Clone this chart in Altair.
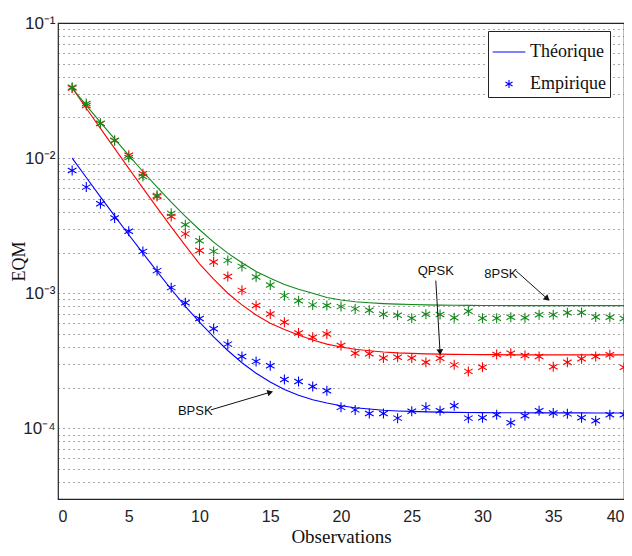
import altair as alt
import pandas as pd

# ---------------- data ----------------
obs = list(range(1, 41))
series_names = ["BPSK", "QPSK", "8PSK"]
series_colors = ["#0000ff", "#ff0000", "#12891a"]

theo_bpsk = [1.0e-2, 7.19e-3, 5.17e-3, 3.74e-3, 2.71e-3, 1.98e-3, 1.45e-3, 1.07e-3, 8.0e-4, 6.1e-4,
             4.75e-4, 3.77e-4, 3.06e-4, 2.56e-4, 2.2e-4, 1.94e-4, 1.76e-4, 1.63e-4, 1.54e-4, 1.47e-4,
             1.42e-4, 1.39e-4, 1.36e-4, 1.345e-4, 1.335e-4, 1.325e-4, 1.318e-4, 1.313e-4, 1.31e-4, 1.307e-4,
             1.305e-4, 1.304e-4, 1.303e-4, 1.302e-4, 1.302e-4, 1.301e-4, 1.301e-4, 1.3e-4, 1.3e-4, 1.3e-4]
theo_qpsk = [3.3e-2, 2.34e-2, 1.66e-2, 1.18e-2, 8.4e-3, 6.0e-3, 4.3e-3, 3.1e-3, 2.25e-3, 1.65e-3,
             1.27e-3, 1.0e-3, 8.2e-4, 6.9e-4, 6.0e-4, 5.4e-4, 4.9e-4, 4.5e-4, 4.2e-4, 4.0e-4,
             3.85e-4, 3.75e-4, 3.67e-4, 3.62e-4, 3.59e-4, 3.56e-4, 3.54e-4, 3.53e-4, 3.52e-4, 3.51e-4,
             3.51e-4, 3.5e-4, 3.5e-4, 3.5e-4, 3.5e-4, 3.5e-4, 3.5e-4, 3.5e-4, 3.5e-4, 3.5e-4]
theo_8psk = [3.3e-2, 2.46e-2, 1.84e-2, 1.386e-2, 1.047e-2, 7.96e-3, 6.1e-3, 4.72e-3, 3.70e-3, 2.95e-3,
             2.39e-3, 1.98e-3, 1.68e-3, 1.45e-3, 1.29e-3, 1.16e-3, 1.07e-3, 1.0e-3, 9.3e-4, 8.9e-4,
             8.65e-4, 8.5e-4, 8.38e-4, 8.3e-4, 8.25e-4, 8.2e-4, 8.17e-4, 8.15e-4, 8.13e-4, 8.12e-4,
             8.11e-4, 8.1e-4, 8.1e-4, 8.1e-4, 8.1e-4, 8.1e-4, 8.1e-4, 8.1e-4, 8.1e-4, 8.1e-4]

emp_bpsk = [8.1e-3, 6.1e-3, 4.6e-3, 3.6e-3, 2.88e-3, 2.04e-3, 1.47e-3, 1.1e-3, 8.5e-4, 6.5e-4,
            5.45e-4, 4.2e-4, 3.4e-4, 3.13e-4, 2.91e-4, 2.3e-4, 2.22e-4, 2.04e-4, 1.9e-4, 1.43e-4,
            1.37e-4, 1.29e-4, 1.29e-4, 1.19e-4, 1.34e-4, 1.43e-4, 1.35e-4, 1.47e-4, 1.19e-4, 1.2e-4,
            1.26e-4, 1.1e-4, 1.24e-4, 1.35e-4, 1.3e-4, 1.28e-4, 1.2e-4, 1.14e-4, 1.26e-4, 1.26e-4]
emp_qpsk = [3.3e-2, 2.45e-2, 1.8e-2, 1.35e-2, 1.05e-2, 7.65e-3, 5.2e-3, 3.7e-3, 2.75e-3, 2.07e-3,
            1.7e-3, 1.33e-3, 1.05e-3, 8.1e-4, 7.03e-4, 6.1e-4, 5.07e-4, 4.72e-4, 5.0e-4, 4.1e-4,
            3.6e-4, 3.56e-4, 3.32e-4, 3.36e-4, 3.32e-4, 3.08e-4, 3.3e-4, 2.95e-4, 2.64e-4, 2.83e-4,
            3.52e-4, 3.6e-4, 3.46e-4, 3.4e-4, 2.86e-4, 3.08e-4, 3.27e-4, 3.4e-4, 3.5e-4, 2.83e-4]
emp_8psk = [3.34e-2, 2.54e-2, 1.81e-2, 1.35e-2, 1.01e-2, 7.3e-3, 5.3e-3, 3.9e-3, 3.21e-3, 2.45e-3,
            2.04e-3, 1.75e-3, 1.58e-3, 1.32e-3, 1.15e-3, 9.6e-4, 8.8e-4, 8.2e-4, 8.1e-4, 7.96e-4,
            7.66e-4, 7.48e-4, 6.98e-4, 6.87e-4, 6.53e-4, 6.98e-4, 6.95e-4, 6.58e-4, 7.36e-4, 6.53e-4,
            6.53e-4, 6.64e-4, 6.58e-4, 6.92e-4, 6.92e-4, 7.16e-4, 7.2e-4, 6.68e-4, 6.64e-4, 6.5e-4]

# annotations
ann_labels = ["BPSK", "QPSK", "8PSK"]
ann_x = [9.7, 26.7, 31.3]
ann_y = [1.35e-4, 1.47e-3, 1.39e-3]
arrow_x1 = [10.8, 26.7, 32.35]
arrow_y1 = [1.37e-4, 1.24e-3, 1.47e-3]
arrow_x2 = [15.0, 27.0, 34.58]
arrow_y2 = [1.85e-4, 3.66e-4, 9.1e-4]
arrow_angle = [73, 176, 132]

legend_kinds = ["Théorique", "Empirique"]
x_ticks = [0, 5, 10, 15, 20, 25, 30, 35, 40]
y_domain = [3e-5, 1e-1]

# ---------------- tables ----------------
theo_rows, emp_rows = [], []
for name, tv, ev in zip(series_names, [theo_bpsk, theo_qpsk, theo_8psk], [emp_bpsk, emp_qpsk, emp_8psk]):
    for x, t, e in zip(obs, tv, ev):
        theo_rows.append({"obs": x, "eqm": t, "mod": name})
        emp_rows.append({"obs": x, "eqm": e, "mod": name, "kind": "Empirique"})
theo_df = pd.DataFrame(theo_rows)
emp_df = pd.DataFrame(emp_rows)
ann_df = pd.DataFrame({"label": ann_labels, "ax": ann_x, "ay": ann_y})
arr_df = pd.DataFrame({"x1": arrow_x1, "y1": arrow_y1, "x2": arrow_x2, "y2": arrow_y2, "ang": arrow_angle})

y_vals = []
for e in [-5, -4, -3, -2]:
    for k in range(1, 10):
        v = float(f"{k}e{e}")
        if y_domain[0] <= v <= y_domain[1]:
            y_vals.append(v)
y_vals.append(0.1)

L = "log(datum.value)/LN10"
label_expr = (f"abs({L} - round({L})) < 0.01 ? "
              f"(round({L}) == -1 ? '10⁻¹' : round({L}) == -2 ? '10⁻²' : "
              f"round({L}) == -3 ? '10⁻³' : round({L}) == -4 ? '10⁻⁴' : '10⁻⁵') : ''")

AST = "M0,-0.25L0,0.25M-0.2165,-0.125L0.2165,0.125M-0.2165,0.125L0.2165,-0.125"

xscale = alt.Scale(domain=[0, 40], nice=False, zero=False)
yscale = alt.Scale(type="log", domain=y_domain, nice=False)
color = alt.Color("mod:N", scale=alt.Scale(domain=series_names, range=series_colors), legend=None)

x_axis = alt.Axis(values=x_ticks, grid=False, ticks=False, title="Observations",
                  labelFont="Liberation Sans", labelFontSize=16, labelColor="#222",
                  labelPadding=9, titleFont="Liberation Serif", titleFontSize=19,
                  titleFontWeight="normal", titleColor="#111", titlePadding=3,
                  domain=False)
y_axis = alt.Axis(values=y_vals, labelExpr=label_expr, grid=True, gridDash=[1, 4],
                  gridColor="#333", gridOpacity=0.85, ticks=False, domain=False,
                  title="EQM", titleFont="Liberation Serif", titleFontSize=18,
                  titleFontWeight="normal", titleColor="#111",
                  titleX=-39, titleY=238, titleAngle=270, titleBaseline="middle",
                  labelFont="Liberation Sans", labelFontSize=17, labelColor="#222",
                  labelPadding=3)


def X(field):
    return alt.X(field, type="quantitative", scale=xscale, axis=x_axis, title="Observations")


def Y(field):
    return alt.Y(field, type="quantitative", scale=yscale, axis=y_axis, title="EQM")


lines = alt.Chart(theo_df).mark_line(strokeWidth=1.1).encode(
    x=X("obs"), y=Y("eqm"), color=color, detail="mod:N")

points = alt.Chart(emp_df).mark_point(filled=False, strokeWidth=1.1, size=1600, opacity=1).encode(
    x=X("obs"), y=Y("eqm"),
    color=color,
    shape=alt.Shape("kind:N",
                    scale=alt.Scale(domain=legend_kinds, range=["stroke", AST]),
                    legend=alt.Legend(title=None, orient="none", legendX=430, legendY=8,
                                      labelFont="Liberation Serif", labelFontSize=18,
                                      labelColor="#111", strokeColor="#222", fillColor="white",
                                      padding=4, rowPadding=6, symbolSize=1060,
                                      symbolStrokeColor="#0000ff", symbolStrokeWidth=1.1,
                                      symbolFillColor="transparent", labelOffset=4)))

texts = alt.Chart(ann_df).mark_text(font="Liberation Sans", fontSize=13, color="#111").encode(
    x=X("ax"), y=Y("ay"), text="label:N")

arrows = alt.Chart(arr_df).mark_rule(color="#111", strokeWidth=1).encode(
    x=X("x1"), y=Y("y1"), x2="x2:Q", y2="y2:Q")

heads = alt.Chart(arr_df).mark_point(shape="triangle-up", filled=True, color="#111", size=45, opacity=1).encode(
    x=X("x2"), y=Y("y2"),
    angle=alt.Angle("ang:Q", scale=None))

chart = alt.layer(lines, points, arrows, heads, texts).properties(
    width=566, height=476,
    autosize=alt.AutoSizeParams(type="none"),
    padding={"left": 50, "top": 15, "right": 0, "bottom": 49},
).configure_view(stroke="#222", strokeWidth=1.2)

chart.save("out.html", embed_options={"renderer": "svg", "actions": False})
